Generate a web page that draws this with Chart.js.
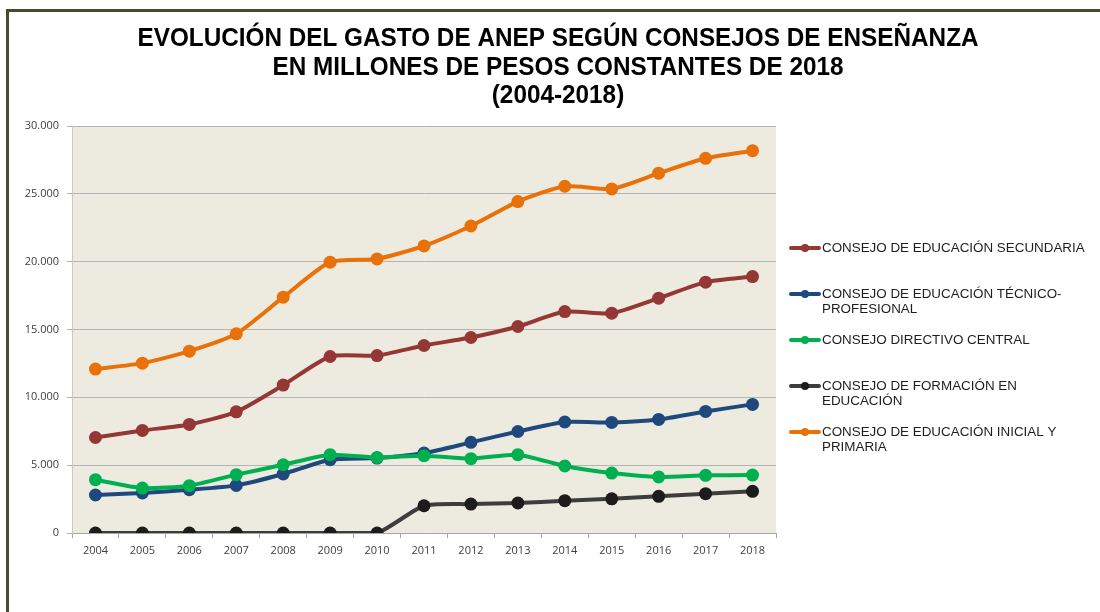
<!DOCTYPE html>
<html>
<head>
<meta charset="utf-8">
<script src="https://cdn.jsdelivr.net/npm/chart.js@4.4.1/dist/chart.umd.min.js"></script>
<style>
  html, body { margin: 0; padding: 0; background: #fff; }
  #wrap { position: relative; width: 1100px; height: 612px; }
  #frame {
    position: absolute; left: 6px; top: 9px; right: 0; bottom: 0;
    border-top: 3px solid #4a4a32; border-left: 3px solid #4a4a32;
    pointer-events: none;
  }
  canvas { position: absolute; left: 0; top: 0; }
</style>
</head>
<body>
<div id="wrap">
  <canvas id="gastoChart" width="1100" height="612"></canvas>
  <div id="frame"></div>
</div>
<script>
// Years (categories)
const years = ["2004", "2005", "2006", "2007", "2008", "2009", "2010", "2011", "2012", "2013", "2014", "2015", "2016", "2017", "2018"];

// Series, millions of constant 2018 pesos
const secundaria = [7040, 7560, 8000, 8930, 10900, 13010, 13080, 13820, 14410, 15220, 16320, 16200, 17310, 18490, 18900];
const tecnicoProfesional = [2800, 2950, 3190, 3510, 4350, 5400, 5520, 5890, 6680, 7480, 8180, 8150, 8370, 8960, 9480];
const directivoCentral = [3930, 3310, 3490, 4300, 5030, 5770, 5570, 5700, 5480, 5770, 4940, 4420, 4130, 4250, 4270];
const formacionEducacion = [0, 0, 0, 0, 0, 0, 0, 2010, 2130, 2210, 2380, 2520, 2700, 2900, 3070];
const inicialPrimaria = [12080, 12520, 13400, 14680, 17380, 19960, 20200, 21160, 22630, 24430, 25560, 25360, 26520, 27620, 28180];

const seriesLabels = [
  ["CONSEJO DE EDUCACIÓN SECUNDARIA"],
  ["CONSEJO DE EDUCACIÓN TÉCNICO-", "PROFESIONAL"],
  ["CONSEJO DIRECTIVO CENTRAL"],
  ["CONSEJO DE FORMACIÓN EN", "EDUCACIÓN"],
  ["CONSEJO DE EDUCACIÓN INICIAL Y", "PRIMARIA"]
];
const seriesData = [secundaria, tecnicoProfesional, directivoCentral, formacionEducacion, inicialPrimaria];
const lineColors = ["#953735", "#1f497d", "#00b050", "#3d3d3d", "#e8710a"];
const pointColors = ["#953735", "#1f497d", "#00b050", "#1c1c1c", "#e8710a"];

const titleLines = [
  "EVOLUCIÓN DEL GASTO DE ANEP SEGÚN CONSEJOS DE ENSEÑANZA",
  "EN MILLONES DE PESOS CONSTANTES DE 2018",
  "(2004-2018)"
];

// thousands with a dot: 30.000
function fmtMiles(v) {
  return String(v).replace(/\B(?=(\d{3})+(?!\d))/g, ".");
}

// plot background
const plotBg = {
  id: "plotBg",
  beforeDraw(chart) {
    const { ctx, chartArea: a } = chart;
    ctx.save();
    ctx.fillStyle = "#edebe0";
    ctx.fillRect(a.left, a.top, a.right - a.left, a.bottom - a.top);
    ctx.restore();
  }
};

// condensed bold title (narrow font is not installed, so squeeze it a bit)
const narrowTitle = {
  id: "narrowTitle",
  afterDraw(chart) {
    const ctx = chart.ctx;
    ctx.save();
    ctx.font = "bold 26px 'Liberation Sans', Arial, sans-serif";
    ctx.fillStyle = "#000";
    ctx.textAlign = "center";
    ctx.textBaseline = "alphabetic";
    titleLines.forEach((t, i) => {
      ctx.save();
      ctx.translate(558, 46 + i * 28.5);
      ctx.scale(0.935, 1);
      ctx.fillText(t, 0, 0);
      ctx.restore();
    });
    ctx.restore();
  }
};

// legend on the right, with wrapped labels
const sideLegend = {
  id: "sideLegend",
  afterDraw(chart) {
    const ctx = chart.ctx;
    ctx.save();
    ctx.font = "13.4px 'Liberation Sans', Arial, sans-serif";
    ctx.textBaseline = "middle";
    ctx.textAlign = "left";
    seriesLabels.forEach((lines, i) => {
      const y = 248 + i * 46;
      ctx.strokeStyle = lineColors[i];
      ctx.lineWidth = 4;
      ctx.lineCap = "round";
      ctx.beginPath();
      ctx.moveTo(791, y);
      ctx.lineTo(819, y);
      ctx.stroke();
      ctx.fillStyle = pointColors[i];
      ctx.beginPath();
      ctx.arc(805, y, 4, 0, Math.PI * 2);
      ctx.fill();
      ctx.fillStyle = "#1e1e1e";
      lines.forEach((t, k) => ctx.fillText(t, 822, y + k * 15.6));
    });
    ctx.restore();
  }
};

const ctx = document.getElementById("gastoChart");
new Chart(ctx, {
  type: "line",
  data: {
    labels: years,
    datasets: seriesData.map((d, i) => ({
      label: seriesLabels[i].join(" "),
      data: d,
      borderColor: lineColors[i],
      backgroundColor: pointColors[i],
      pointBackgroundColor: pointColors[i],
      pointBorderWidth: 0,
      pointRadius: 6.5,
      borderWidth: 4,
      tension: 0.2,
      order: seriesData.length - i
    }))
  },
  options: {
    responsive: false,
    animation: false,
    layout: { padding: { left: 16, right: 324, top: 126, bottom: 0 } },
    plugins: {
      legend: { display: false },
      tooltip: { enabled: false },
      title: { display: false }
    },
    scales: {
      x: {
        offset: true,
        grid: { display: true, drawOnChartArea: false, offset: true, color: "#a6a6a6", tickLength: 5 },
        border: { color: "#a6a6a6" },
        ticks: { color: "#404040", padding: 6, font: { family: "'Open Sans', sans-serif", size: 11 } },
        afterFit(scale) { scale.height = 79; }
      },
      y: {
        min: 0,
        max: 30000,
        ticks: {
          stepSize: 5000,
          color: "#404040",
          padding: 8,
          font: { family: "'Open Sans', sans-serif", size: 11 },
          callback: v => fmtMiles(v)
        },
        grid: { color: "#b4b4b4", tickLength: 5 },
        border: { color: "#c8c8c8" },
        afterFit(scale) { scale.width = 56; }
      }
    }
  },
  plugins: [plotBg, narrowTitle, sideLegend]
});
</script>
</body>
</html>
